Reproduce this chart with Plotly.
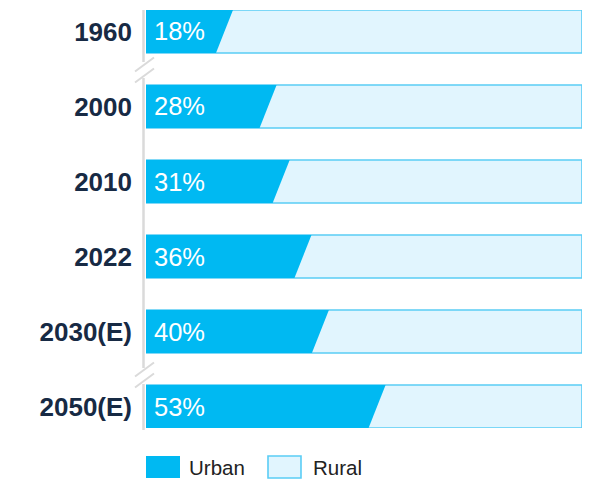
import plotly.graph_objects as go

# ---- data ----
years = ["1960", "2000", "2010", "2022", "2030(E)", "2050(E)"]
urban = [18, 28, 31, 36, 40, 53]
total = [100, 100, 100, 100, 100, 100]
series_names = ["Urban", "Rural"]

# ---- style ----
URBAN_C = "#00B9F2"
RURAL_FILL = "#E1F5FE"
RURAL_LINE = "#5ACDF5"
AXIS_C = "#DADADA"
NAVY = "#172A44"
FONT = "Liberation Sans, Arial, sans-serif"

OFF = 8                # page body margin offset
W, H = 613, 480
L, R, T, B = 146 - OFF, 31 + OFF, 10 - OFF, 52 + OFF
PW, PH = W - L - R, H - T - B
HALF = 0.2863          # half bar thickness (category units)
SLANT = 1.95           # half horizontal slant (x units)


def px_x(p):
    return (p - OFF - L) / PW


def px_y(p):
    return (H - B - (p - OFF)) / PH


fig = go.Figure()

for i, (v, t) in enumerate(zip(urban, total)):
    fig.add_trace(go.Scatter(
        x=[0, t, t, 0, 0],
        y=[i - HALF, i - HALF, i + HALF, i + HALF, i - HALF],
        mode="lines", fill="toself", fillcolor=RURAL_FILL,
        line=dict(color=RURAL_LINE, width=1.6),
        hoverinfo="skip", showlegend=False))
    fig.add_trace(go.Scatter(
        x=[0, v + SLANT, v - SLANT, 0, 0],
        y=[i - HALF, i - HALF, i + HALF, i + HALF, i - HALF],
        mode="lines", fill="toself", fillcolor=URBAN_C,
        line=dict(color=URBAN_C, width=0),
        hoverinfo="skip", showlegend=False))
    fig.add_annotation(x=0, y=i, xref="x", yref="y", text=f"{v}%",
                       showarrow=False, xanchor="left", xshift=6,
                       font=dict(family=FONT, size=25.5, color="white"))

shapes = []
ax_x = px_x(143.5)
segments = [(10, 62), (78, 368), (384, 430)]
for y0, y1 in segments:
    shapes.append(dict(type="line", xref="paper", yref="paper",
                       x0=ax_x, x1=ax_x, y0=px_y(y0), y1=px_y(y1),
                       line=dict(color=AXIS_C, width=2.5)))
for cy in (70, 375):
    for off in (-5.5, 5.5):
        shapes.append(dict(type="line", xref="paper", yref="paper",
                           x0=px_x(135), x1=px_x(154),
                           y0=px_y(cy + off + 7), y1=px_y(cy + off - 7),
                           line=dict(color=AXIS_C, width=2)))
shapes.append(dict(type="rect", xref="paper", yref="paper",
                   x0=px_x(146), x1=px_x(180), y0=px_y(478), y1=px_y(456),
                   fillcolor=URBAN_C, line=dict(width=0)))
shapes.append(dict(type="rect", xref="paper", yref="paper",
                   x0=px_x(268), x1=px_x(301), y0=px_y(478), y1=px_y(456),
                   fillcolor=RURAL_FILL, line=dict(color=RURAL_LINE, width=1.6)))

for name, xpos in zip(series_names, (187, 311)):
    fig.add_annotation(x=px_x(xpos), y=px_y(467), xref="paper", yref="paper",
                       text=name, showarrow=False, xanchor="left", yanchor="middle",
                       font=dict(family=FONT, size=20.5, color="#222222"))

fig.update_layout(
    width=W, height=H,
    margin=dict(l=L, r=R, t=T, b=B),
    paper_bgcolor="white", plot_bgcolor="white",
    shapes=shapes,
    showlegend=False,
    xaxis=dict(range=[0, 100], visible=False, fixedrange=True),
    yaxis=dict(range=[len(years) - 1 + HALF, -HALF],
               tickmode="array", tickvals=list(range(len(years))), ticktext=years,
               showgrid=False, zeroline=False, showline=False, ticks="",
               ticklabelstandoff=13,
               tickfont=dict(family=FONT, size=26, color=NAVY, weight="bold"),
               fixedrange=True),
)

fig.write_html("out.html")
